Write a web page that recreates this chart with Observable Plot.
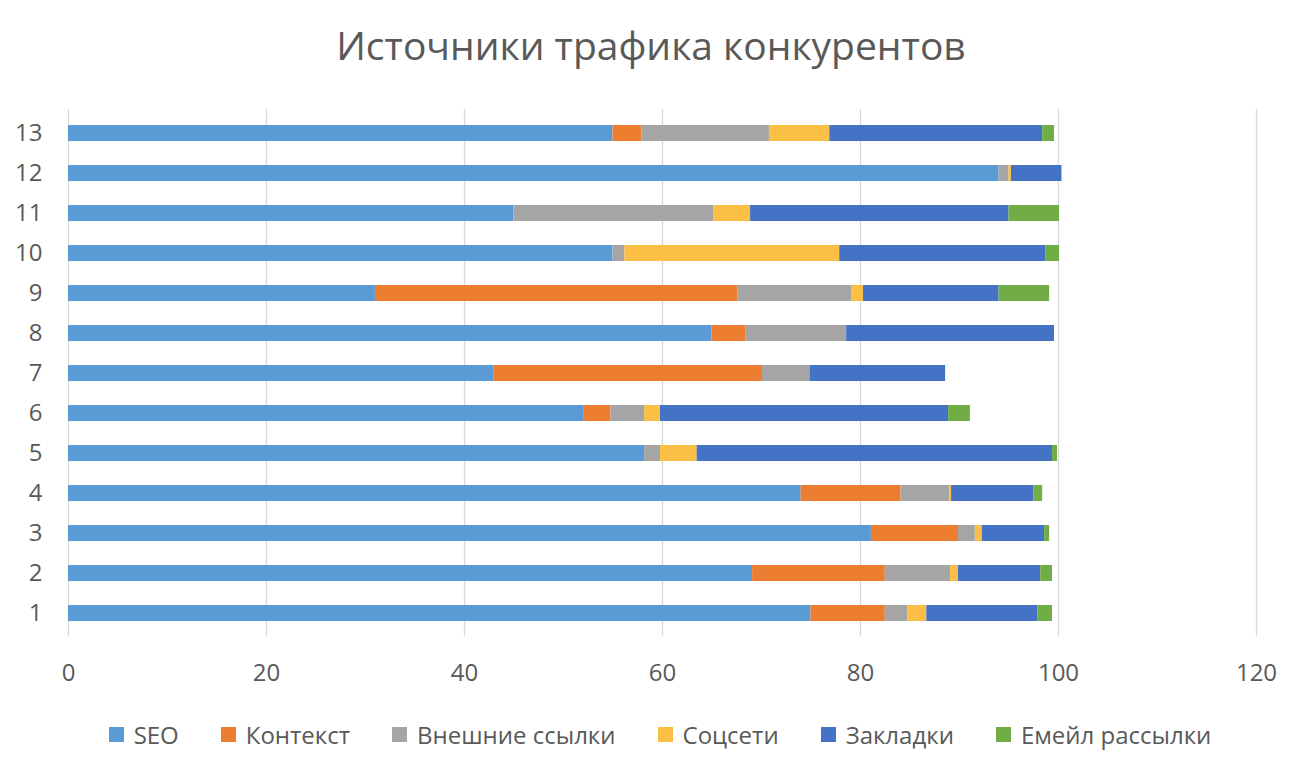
<!DOCTYPE html>
<html>
<head>
<meta charset="utf-8">
<script src="https://cdn.jsdelivr.net/npm/d3@7"></script>
<script src="https://cdn.jsdelivr.net/npm/@observablehq/plot@0.6"></script>
<style>
  body { margin: 0; background: #fff; font-family: "Open Sans", "Noto Sans", sans-serif; }
  #title { height: 90px; line-height: 90px; text-align: center; font-size: 39px; color: #595959; }
  #legend { display: flex; justify-content: center; gap: 42px; margin-top: 22px; padding-left: 18px; font-size: 24px; line-height: 33px; color: #595959; }
  #legend span.item { display: flex; align-items: center; gap: 10px; }
  #legend span.sw { width: 15px; height: 15px; display: inline-block; }
</style>
</head>
<body>
<div id="title">Источники трафика конкурентов</div>
<div id="chart"></div>
<div id="legend"></div>
<script>
const categories = ["1","2","3","4","5","6","7","8","9","10","11","12","13"];
const seriesNames = ["SEO", "Контекст", "Внешние ссылки", "Соцсети", "Закладки", "Емейл рассылки"];
const colors = ["#5B9BD5", "#ED7D31", "#A5A5A5", "#FBBF45", "#4472C4", "#70AD47"];

const seo      = [75,   69.1, 81.1, 74,   58.2, 52.1, 43,   65,   31,   55,   45,   94,   55];
const kontekst = [7.5,  13.4, 8.8,  10.1, 0,    2.7,  27.1, 3.4,  36.6, 0,    0,    0,    2.9];
const vneshnie = [2.3,  6.6,  1.7,  4.9,  1.6,  3.4,  4.8,  10.2, 11.5, 1.2,  20.2, 1.0,  12.9];
const socseti  = [1.9,  0.8,  0.7,  0.2,  3.7,  1.6,  0,    0,    1.2,  21.7, 3.7,  0.25, 6.1];
const zakladki = [11.2, 8.3,  6.3,  8.3,  35.9, 29.1, 13.7, 21.0, 13.7, 20.8, 26.1, 5.1,  21.5];
const email    = [1.5,  1.2,  0.5,  0.9,  0.5,  2.2,  0,    0,    5.1,  1.4,  5.1,  0,    1.2];

const xTicks = [0, 20, 40, 60, 80, 100, 120];

const seriesValues = [seo, kontekst, vneshnie, socseti, zakladki, email];
const rows = [];
seriesNames.forEach((s, si) => {
  categories.forEach((c, ci) => {
    rows.push({category: c, series: s, value: seriesValues[si][ci]});
  });
});

const chart = Plot.plot({
  width: 1302,
  height: 606,
  marginLeft: 68,
  marginRight: 46,
  marginTop: 19,
  marginBottom: 60,
  style: { fontFamily: "'Open Sans', 'Noto Sans', sans-serif", fontSize: "24px", color: "#595959", background: "#fff" },
  x: { domain: [0, 120], ticks: xTicks, label: null },
  y: { domain: categories.slice().reverse(), paddingInner: 0.6, paddingOuter: 0.3, label: null },
  color: { domain: seriesNames, range: colors },
  marks: [
    Plot.ruleX(xTicks, { stroke: "#d9d9d9", strokeWidth: 1.3 }),
    Plot.barX(rows, Plot.stackX({ order: seriesNames, x: "value", y: "category", fill: "series" })),
    Plot.axisX({ ticks: xTicks, tickSize: 0, tickPadding: 27, fontSize: 24, label: null }),
    Plot.axisY({ tickSize: 0, tickPadding: 26, fontSize: 24, label: null })
  ]
});
document.getElementById("chart").appendChild(chart);

const legend = document.getElementById("legend");
seriesNames.forEach((s, i) => {
  const item = document.createElement("span");
  item.className = "item";
  const sw = document.createElement("span");
  sw.className = "sw";
  sw.style.background = colors[i];
  item.appendChild(sw);
  item.appendChild(document.createTextNode(s));
  legend.appendChild(item);
});
</script>
</body>
</html>
